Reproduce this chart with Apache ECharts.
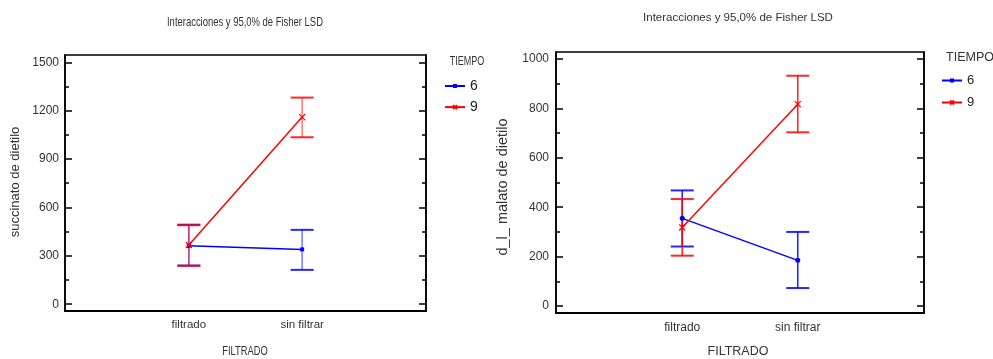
<!DOCTYPE html>
<html>
<head>
<meta charset="utf-8">
<title>Interacciones y 95,0% de Fisher LSD</title>
<script src="https://cdn.jsdelivr.net/npm/echarts@6/dist/echarts.min.js"></script>
<style>
  html, body { margin: 0; padding: 0; background: #fff; }
  #chart { width: 993px; height: 359px; }
</style>
</head>
<body>
<div id="chart"></div>
<script>
// Levels of the FILTRADO factor
const categories = ['filtrado', 'sin filtrar'];

// succinato de dietilo: means and 95% Fisher LSD limits per TIEMPO level
const succMean6 = [362, 340];
const succLow6  = [240, 213];
const succHigh6 = [493, 461];
const succMean9 = [367, 1160];
const succLow9  = [238, 1035];
const succHigh9 = [490, 1281];

// d_l_ malato de dietilo: means and 95% Fisher LSD limits per TIEMPO level
const malMean6 = [355, 185];
const malLow6  = [241, 73];
const malHigh6 = [468, 300];
const malMean9 = [318, 817];
const malLow9  = [204, 703];
const malHigh9 = [433, 932];

// Tick values
const succTicks = [0, 300, 600, 900, 1200, 1500];
const succMinor = [150, 450, 750, 1050, 1350];
const malTicks = [0, 200, 400, 600, 800, 1000];
const malMinor = [100, 300, 500, 700, 900];

const SANS = '"Liberation Sans", Arial, sans-serif';
const BLUE = '#0000ff';
const RED = '#ff0000';
const CROSS = 'path://M0,0L10,10M10,0L0,10';

const chart = echarts.init(document.getElementById('chart'), null, { renderer: 'canvas' });

function pts(means) { return means.map((v, i) => [i, v]); }
function bars(low, high) { return low.map((v, i) => [i, v, high[i]]); }

function errorBars(name, xi, yi, data, color, stemAlpha) {
  return {
    type: 'custom', name: name, xAxisIndex: xi, yAxisIndex: yi,
    silent: true, z: 2,
    data: data,
    renderItem: function (params, api) {
      const x = api.value(0);
      const lo = api.coord([x, api.value(1)]);
      const hi = api.coord([x, api.value(2)]);
      const w = 11.5;
      return {
        type: 'group',
        children: [
          { type: 'line', shape: { x1: lo[0], y1: lo[1], x2: hi[0], y2: hi[1] },
            style: { stroke: color, opacity: stemAlpha, lineWidth: 1.6 } },
          { type: 'line', shape: { x1: lo[0] - w, y1: lo[1], x2: lo[0] + w, y2: lo[1] },
            style: { stroke: color, opacity: 0.85, lineWidth: 2 } },
          { type: 'line', shape: { x1: hi[0] - w, y1: hi[1], x2: hi[0] + w, y2: hi[1] },
            style: { stroke: color, opacity: 0.85, lineWidth: 2 } }
        ]
      };
    }
  };
}

function meanLine(name, xi, yi, data, color, symbol, size) {
  const cross = symbol === CROSS;
  return {
    type: 'line', name: name, xAxisIndex: xi, yAxisIndex: yi, z: 3,
    data: data, symbol: symbol, symbolSize: size, showSymbol: true,
    lineStyle: { color: color, width: 1.5 },
    itemStyle: cross ? { color: 'none', borderColor: color, borderWidth: 1.2 }
                     : { color: color, borderColor: color, borderWidth: 0 },
    emphasis: { disabled: true }
  };
}

function xAxis(gi, size, margin) {
  return {
    type: 'value', gridIndex: gi, min: -1.093, max: 2.093,
    axisLine: { show: true, onZero: false, lineStyle: { color: '#000', width: 2 } },
    axisTick: { show: false },
    splitLine: { show: false },
    axisLabel: {
      customValues: [0, 1], margin: margin,
      formatter: v => categories[Math.round(v)],
      fontFamily: SANS, fontSize: size, color: '#333'
    }
  };
}

function yAxes(gi, min, max, majors, minors, size, margin) {
  const base = { type: 'value', gridIndex: gi, min: min, max: max, splitLine: { show: false } };
  const tickStyle = { color: '#000', width: 1.5 };
  return [
    Object.assign({}, base, {
      position: 'left',
      axisLine: { show: true, onZero: false, lineStyle: { color: '#000', width: 1.6 } },
      axisTick: { show: true, inside: true, length: 7, customValues: majors, lineStyle: tickStyle },
      axisLabel: { customValues: majors, margin: margin, formatter: v => String(v),
                   fontFamily: SANS, fontSize: size, color: '#333' }
    }),
    Object.assign({}, base, {
      position: 'left',
      axisLine: { show: false, onZero: false },
      axisTick: { show: true, inside: true, length: 4, customValues: minors, lineStyle: tickStyle },
      axisLabel: { show: false }
    }),
    Object.assign({}, base, {
      position: 'right',
      axisLine: { show: true, onZero: false, lineStyle: { color: '#000', width: 1.6 } },
      axisTick: { show: true, inside: true, length: 7, customValues: majors, lineStyle: tickStyle },
      axisLabel: { show: false }
    }),
    Object.assign({}, base, {
      position: 'right',
      axisLine: { show: false, onZero: false },
      axisTick: { show: true, inside: true, length: 4, customValues: minors, lineStyle: tickStyle },
      axisLabel: { show: false }
    })
  ];
}

// Free-standing text; sx squeezes the glyphs horizontally for the condensed look
function text(x, y, str, size, color, rotate, sx) {
  return {
    type: 'text', x: x, y: y, rotation: rotate ? Math.PI / 2 : 0, silent: true,
    scaleX: sx || 1,
    style: { text: str, fontFamily: SANS, fontSize: size, fill: color,
             align: 'center', verticalAlign: 'middle' }
  };
}

const option = {
  animation: false,
  backgroundColor: '#fff',
  grid: [
    { left: 65, top: 55, width: 361, height: 256, show: true, borderColor: '#000', borderWidth: 1.5 },
    { left: 556, top: 52, width: 368, height: 261, show: true, borderColor: '#000', borderWidth: 1.5 }
  ],
  xAxis: [
    xAxis(0, 11.5, 8),
    xAxis(1, 12, 9)
  ],
  yAxis: [].concat(
    yAxes(0, -42, 1545, succTicks, succMinor, 12, 6),
    yAxes(1, -28, 1028, malTicks, malMinor, 12, 7)
  ),
  legend: [
    { left: 439, top: 74, orient: 'vertical', itemWidth: 20, itemHeight: 5, itemGap: 7.1,
      data: ['6', '9'], selectedMode: false,
      textStyle: { fontFamily: SANS, fontSize: 14, color: '#222' } },
    { left: 936, top: 69, orient: 'vertical', itemWidth: 20, itemHeight: 5, itemGap: 9,
      data: ['6', '9'], selectedMode: false,
      textStyle: { fontFamily: SANS, fontSize: 13, color: '#222' } }
  ],
  graphic: [
    text(245, 22.5, 'Interacciones y 95,0% de Fisher LSD', 13.5, '#333', false, 0.7),
    text(467, 62, 'TIEMPO', 12.5, '#333', false, 0.72),
    text(15, 182, 'succinato de dietilo', 13, '#333', true),
    text(245, 351, 'FILTRADO', 13, '#333', false, 0.72),
    text(738, 17.5, 'Interacciones y 95,0% de Fisher LSD', 11.5, '#333'),
    text(970, 58, 'TIEMPO', 12.5, '#333'),
    text(503, 187, 'd_l_ malato de dietilo', 14.5, '#333', true),
    text(738, 352, 'FILTRADO', 12.5, '#333')
  ],
  series: [
    errorBars('lsd6a', 0, 0, bars(succLow6, succHigh6), BLUE, 0.5),
    errorBars('lsd9a', 0, 0, bars(succLow9, succHigh9), RED, 0.5),
    meanLine('6', 0, 0, pts(succMean6), BLUE, 'rect', 4),
    meanLine('9', 0, 0, pts(succMean9), RED, CROSS, 6),

    errorBars('lsd6b', 1, 4, bars(malLow6, malHigh6), BLUE, 0.85),
    errorBars('lsd9b', 1, 4, bars(malLow9, malHigh9), RED, 0.85),
    meanLine('6', 1, 4, pts(malMean6), BLUE, 'circle', 5),
    meanLine('9', 1, 4, pts(malMean9), RED, CROSS, 6)
  ]
};

chart.setOption(option);
</script>
</body>
</html>
